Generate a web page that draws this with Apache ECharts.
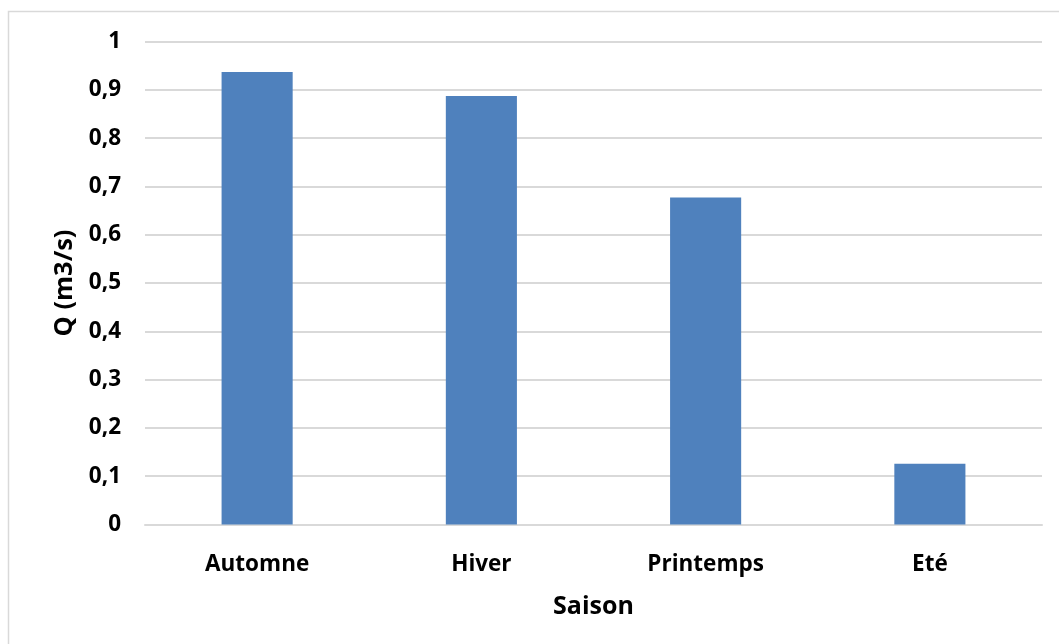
<!DOCTYPE html>
<html>
<head>
<meta charset="utf-8">
<script src="https://cdn.jsdelivr.net/npm/echarts@6/dist/echarts.min.js"></script>
<style>
  html, body { margin: 0; padding: 0; background: #ffffff; }
  #chart { width: 1059px; height: 644px; }
</style>
</head>
<body>
<div id="chart"></div>
<script>
// Seasonal mean discharge
const seasons = ['Automne', 'Hiver', 'Printemps', 'Eté'];
const discharge = [0.937, 0.887, 0.677, 0.126];
const yAxisTitle = 'Q (m3/s)';
const xAxisTitle = 'Saison';

const FONT = '"Open Sans", "Noto Sans", sans-serif';
const chart = echarts.init(document.getElementById('chart'), null, { renderer: 'canvas' });

chart.setOption({
  backgroundColor: '#ffffff',
  animation: false,
  graphic: [{
    type: 'rect',
    silent: true,
    shape: { x: 8.5, y: 11.5, width: 1200, height: 800 },
    style: { fill: 'none', stroke: '#d9d9d9', lineWidth: 1.5 }
  }],
  grid: { left: 145, right: 17, top: 41.5, bottom: 119.5 },
  xAxis: {
    type: 'category',
    data: seasons,
    name: xAxisTitle,
    nameLocation: 'middle',
    nameGap: 70,
    nameTextStyle: { fontFamily: FONT, fontWeight: 'bold', fontSize: 25, color: '#000' },
    axisLine: { lineStyle: { color: '#d9d9d9', width: 2 } },
    axisTick: { show: false },
    axisLabel: { fontFamily: FONT, fontWeight: 'bold', fontSize: 22.5, color: '#000', margin: 29 }
  },
  yAxis: {
    type: 'value',
    min: 0,
    max: 1,
    interval: 0.1,
    name: yAxisTitle,
    nameLocation: 'middle',
    nameGap: 64,
    nameRotate: 90,
    nameTextStyle: { fontFamily: FONT, fontWeight: 'bold', fontSize: 25.5, color: '#000' },
    axisLine: { show: false },
    axisTick: { show: false },
    splitLine: { lineStyle: { color: '#d9d9d9', width: 2 } },
    axisLabel: {
      fontFamily: FONT, fontWeight: 'bold', fontSize: 22.5, color: '#000', margin: 24,
      formatter: v => String(Math.round(v * 10) / 10).replace('.', ',')
    }
  },
  series: [{
    type: 'bar',
    data: discharge,
    barWidth: '31.7%',
    itemStyle: { color: '#4f81bd' }
  }]
});
</script>
</body>
</html>
